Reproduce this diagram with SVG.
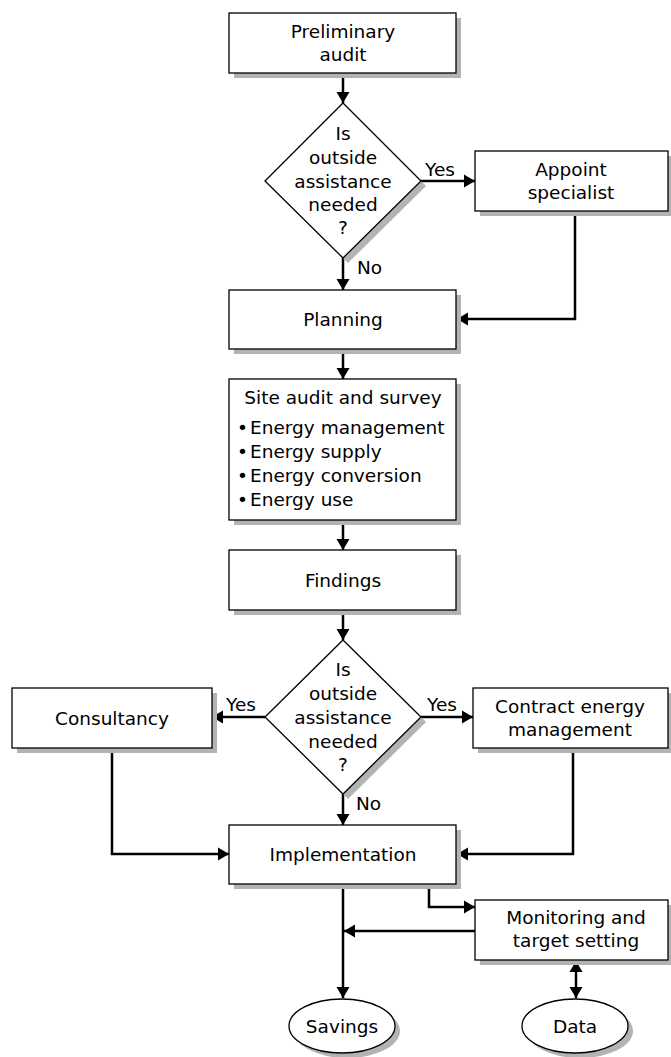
<svg xmlns="http://www.w3.org/2000/svg" width="671" height="1057" viewBox="0 0 671 1057">
<defs>
<style>
.box{fill:#fff;stroke:#000;stroke-width:1.3}
.sh{fill:#b3b3b3;stroke:none}
.t{font-family:"DejaVu Sans",Verdana,sans-serif;font-size:18.5px;fill:#000}
.c{text-anchor:middle}
.ln{fill:none;stroke:#000;stroke-width:2.5}
</style>
<marker id="ah" markerUnits="userSpaceOnUse" markerWidth="12" markerHeight="14" viewBox="0 0 12 14" refX="11" refY="7" orient="auto">
<path d="M0,0.5 L11,7 L0,13.5 Z" fill="#000"/>
</marker>
<marker id="as" markerUnits="userSpaceOnUse" markerWidth="12" markerHeight="14" viewBox="0 0 12 14" refX="1" refY="7" orient="auto">
<path d="M12,0.5 L1,7 L12,13.5 Z" fill="#000"/>
</marker>
</defs>
<rect width="671" height="1057" fill="#fff"/>

<g id="connectors">
<path class="ln" d="M343,73 V103" marker-end="url(#ah)"/>
<path class="ln" d="M421,181 H475" marker-end="url(#ah)"/>
<path class="ln" d="M343,258 V290" marker-end="url(#ah)"/>
<path class="ln" d="M575,211 V319 H457" marker-end="url(#ah)"/>
<path class="ln" d="M343,349 V379" marker-end="url(#ah)"/>
<path class="ln" d="M343,520 V550" marker-end="url(#ah)"/>
<path class="ln" d="M343,610 V640" marker-end="url(#ah)"/>
<path class="ln" d="M265,717 H212" marker-end="url(#ah)"/>
<path class="ln" d="M421,717 H473" marker-end="url(#ah)"/>
<path class="ln" d="M343,794 V825" marker-end="url(#ah)"/>
<path class="ln" d="M112,748 V854 H229" marker-end="url(#ah)"/>
<path class="ln" d="M573,748 V854 H457" marker-end="url(#ah)"/>
<path class="ln" d="M343,884 V998" marker-end="url(#ah)"/>
<path class="ln" d="M429,884 V907 H475" marker-end="url(#ah)"/>
<path class="ln" d="M475,931 H344" marker-end="url(#ah)"/>
<path class="ln" d="M576,961 V998" marker-start="url(#as)" marker-end="url(#ah)"/>
<text class="t c" x="440" y="176">Yes</text>
<text class="t" x="357" y="274">No</text>
<text class="t c" x="241" y="711">Yes</text>
<text class="t c" x="442" y="711">Yes</text>
<text class="t" x="356" y="810">No</text>
</g>

<g id="preliminary">
<rect class="sh" x="234" y="18" width="227" height="60"/>
<rect class="box" x="229" y="13" width="227" height="60"/>
<text class="t c" x="343" y="38">Preliminary</text>
<text class="t c" x="343" y="61">audit</text>
</g>

<g id="decision1">
<polygon class="sh" points="348,108 426,186 348,263 270,186"/>
<polygon class="box" points="343,103 421,181 343,258 265,181"/>
<text class="t c" x="343" y="139.5">Is</text>
<text class="t c" x="343" y="163.5">outside</text>
<text class="t c" x="343" y="187.5">assistance</text>
<text class="t c" x="343" y="210.5">needed</text>
<text class="t c" x="343" y="233.5">?</text>
</g>

<g id="appoint">
<rect class="sh" x="480" y="156" width="193" height="60"/>
<rect class="box" x="475" y="151" width="193" height="60"/>
<text class="t c" x="571" y="176">Appoint</text>
<text class="t c" x="571" y="199">specialist</text>
</g>

<g id="planning">
<rect class="sh" x="234" y="295" width="227" height="59"/>
<rect class="box" x="229" y="290" width="227" height="59"/>
<text class="t c" x="343" y="325.5">Planning</text>
</g>

<g id="site">
<rect class="sh" x="234" y="384" width="227" height="141"/>
<rect class="box" x="229" y="379" width="227" height="141"/>
<text class="t c" x="343" y="403.5">Site audit and survey</text>
<text class="t" x="237" y="433.5">•</text><text class="t" x="250" y="433.5">Energy management</text>
<text class="t" x="237" y="457.5">•</text><text class="t" x="250" y="457.5">Energy supply</text>
<text class="t" x="237" y="481.5">•</text><text class="t" x="250" y="481.5">Energy conversion</text>
<text class="t" x="237" y="505.5">•</text><text class="t" x="250" y="505.5">Energy use</text>
</g>

<g id="findings">
<rect class="sh" x="234" y="555" width="227" height="60"/>
<rect class="box" x="229" y="550" width="227" height="60"/>
<text class="t c" x="343" y="586.5">Findings</text>
</g>

<g id="decision2">
<polygon class="sh" points="348,645 426,722 348,799 270,722"/>
<polygon class="box" points="343,640 421,717 343,794 265,717"/>
<text class="t c" x="343" y="675.5">Is</text>
<text class="t c" x="343" y="699.5">outside</text>
<text class="t c" x="343" y="723.5">assistance</text>
<text class="t c" x="343" y="747.5">needed</text>
<text class="t c" x="343" y="770.5">?</text>
</g>

<g id="consultancy">
<rect class="sh" x="17" y="693" width="200" height="60"/>
<rect class="box" x="12" y="688" width="200" height="60"/>
<text class="t c" x="112" y="724.5">Consultancy</text>
</g>

<g id="contract">
<rect class="sh" x="478" y="693" width="195" height="60"/>
<rect class="box" x="473" y="688" width="195" height="60"/>
<text class="t c" x="570" y="712.5">Contract energy</text>
<text class="t c" x="570" y="735.5">management</text>
</g>

<g id="implementation">
<rect class="sh" x="234" y="830" width="227" height="59"/>
<rect class="box" x="229" y="825" width="227" height="59"/>
<text class="t c" x="343" y="860.5">Implementation</text>
</g>

<g id="monitoring">
<rect class="sh" x="480" y="905" width="193" height="60"/>
<rect class="box" x="475" y="900" width="193" height="60"/>
<text class="t c" x="576" y="923.5">Monitoring and</text>
<text class="t c" x="576" y="946.5">target setting</text>
</g>

<g id="savings">
<ellipse class="sh" cx="347" cy="1031" rx="53" ry="27"/>
<ellipse class="box" cx="342" cy="1026" rx="53" ry="27"/>
<text class="t c" x="342" y="1032.5">Savings</text>
</g>

<g id="data">
<ellipse class="sh" cx="580" cy="1031" rx="53" ry="27"/>
<ellipse class="box" cx="575" cy="1026" rx="53" ry="27"/>
<text class="t c" x="575" y="1032.5">Data</text>
</g>
</svg>
